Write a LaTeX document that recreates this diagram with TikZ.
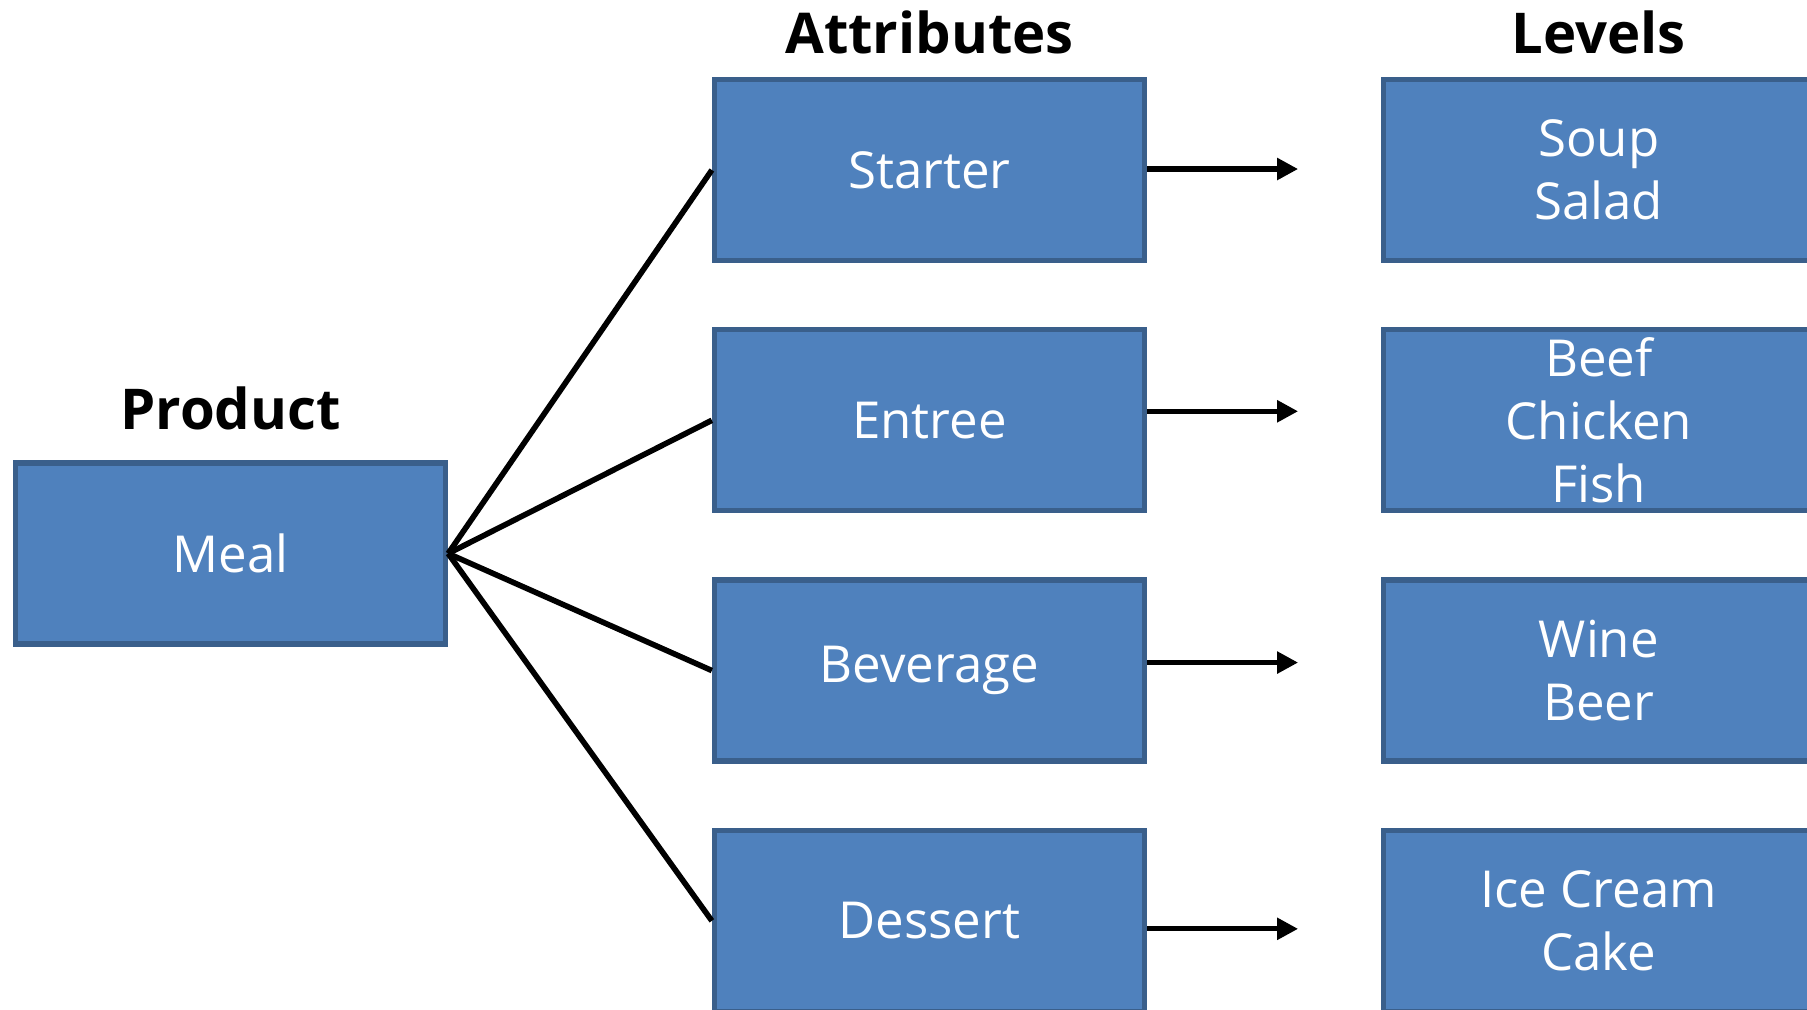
\documentclass[tikz,border=0pt]{standalone}
\usepackage{fontspec}
\setmainfont{Open Sans}
\usepackage{tikz}
\usepackage{xcolor}
\usetikzlibrary{arrows.meta, positioning, calc}
\definecolor{boxfill}{HTML}{4F81BD}
\definecolor{boxline}{HTML}{3A5F8B}

\begin{document}
\begin{tikzpicture}[auto,>={Triangle[length=6pt,width=6pt]},node distance=0.64cm,
  block/.style={draw=boxline,fill=boxfill,line width=1.5pt,rectangle,minimum height=1.81cm,minimum width=4.30cm,inner sep=0pt,text=white,align=center,font=\fontsize{14.5pt}{18pt}\selectfont},
  heading/.style={inner sep=0pt,font=\fontsize{16pt}{20pt}\selectfont\bfseries},
  fan/.style={line width=1.6pt},
  link/.style={->,line width=1.5pt}]
  \useasboundingbox (0,0) rectangle (18.07,-10.09);
  \clip (0,0) rectangle (18.07,-10.09);
  \node[block] (meal) at (2.305,-5.535) {Meal};
  \node[block] (starter) at (9.295,-1.70) {Starter};
  \node[block,below=of starter] (entree) {Entree};
  \node[block,below=of entree] (beverage) {Beverage};
  \node[block,below=of beverage] (dessert) {Dessert};
  \node[block,right=2.34cm of starter] (soup) {Soup\\Salad};
  \node[block,right=2.34cm of entree] (beef) {Beef\\Chicken\\Fish};
  \node[block,right=2.34cm of beverage] (wine) {Wine\\Beer};
  \node[block,right=2.34cm of dessert] (icecream) {Ice Cream\\Cake};
  \node[heading,above=0.30cm of meal] (product) {Product};
  \node[heading,above=0.22cm of starter] (attributes) {Attributes};
  \node[heading,above=0.22cm of soup] (levels) {Levels};
  \draw[fan] (meal.east) -- (starter.west);
  \draw[fan] (meal.east) -- (entree.west);
  \draw[fan] (meal.east) -- (beverage.west);
  \draw[fan] (meal.east) -- (dessert.west);
  \node[coordinate,right=1.51cm of starter.east,yshift=0.01cm] (starterout) {};
  \node[coordinate,right=1.51cm of entree.east,yshift=0.09cm] (entreeout) {};
  \node[coordinate,right=1.51cm of beverage.east,yshift=0.08cm] (beverageout) {};
  \node[coordinate,right=1.51cm of dessert.east,yshift=-0.08cm] (dessertout) {};
  \draw[link] (starter.east |- starterout) -- (starterout);
  \draw[link] (entree.east |- entreeout) -- (entreeout);
  \draw[link] (beverage.east |- beverageout) -- (beverageout);
  \draw[link] (dessert.east |- dessertout) -- (dessertout);
\end{tikzpicture}
\end{document}
